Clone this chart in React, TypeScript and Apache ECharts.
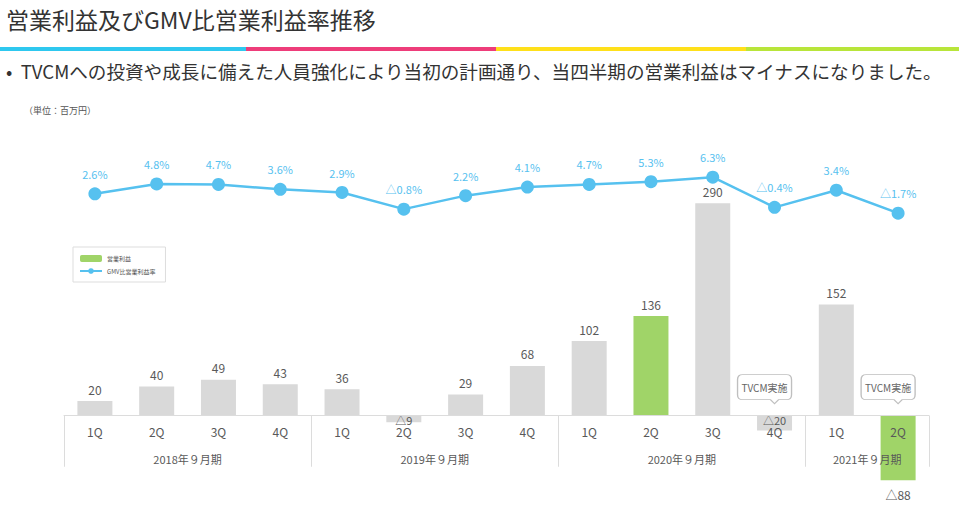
import React, { useEffect, useRef } from "react";
import * as echarts from "echarts";

const quarterLabels = ["1Q", "2Q", "3Q", "4Q", "1Q", "2Q", "3Q", "4Q", "1Q", "2Q", "3Q", "4Q", "1Q", "2Q"];
const operatingProfit = [20, 40, 49, 43, 36, -9, 29, 68, 102, 136, 290, -20, 152, -88];
const gmvMargin = [2.6, 4.8, 4.7, 3.6, 2.9, -0.8, 2.2, 4.1, 4.7, 5.3, 6.3, -0.4, 3.4, -1.7];
const fiscalYears = ["2018年９月期", "2019年９月期", "2020年９月期", "2021年９月期"];
const quartersPerYear = [4, 4, 4, 2];
const highlighted = [9, 13];
const calloutIndex = [11, 13];
const calloutText = "TVCM実施";

const FONT = "'Noto Sans CJK JP', 'Noto Sans', sans-serif";
const GRAY = "#d9d9d9";
const GREEN = "#a0d468";
const BLUE = "#56c1ef";
const TEXT = "#595959";

const BAR_MIN = -100;
const BAR_MAX = 360;
const GRID_TOP = 152;
const GRID_BOTTOM = 20;
const CHART_H = 509;

const fmtTri = (v: number, digits: number, suffix: string) =>
  v < 0 ? `△${Math.abs(v).toFixed(digits)}${suffix}` : `${v.toFixed(digits)}${suffix}`;

export default function App() {
  const ref = useRef<HTMLDivElement>(null);
  useEffect(() => {
    if (!ref.current) return;
    const chart = echarts.init(ref.current, undefined, { renderer: "svg" });

    const categories = quarterLabels.map((q, i) => `${i}-${q}`);
    const boundaries: number[] = [0];
    const centers: number[] = [];
    quartersPerYear.forEach((n) => {
      const start = boundaries[boundaries.length - 1];
      centers.push(start + n / 2);
      boundaries.push(start + n);
    });
    const total = boundaries[boundaries.length - 1];

    // place the x axes on the bar axis' zero line
    const gridH = CHART_H - GRID_TOP - GRID_BOTTOM;
    const zeroOffset = -(gridH * (0 - BAR_MIN)) / (BAR_MAX - BAR_MIN);

    const barData = operatingProfit.map((v, i) => {
      const item: any = {
        value: v,
        itemStyle: { color: highlighted.includes(i) ? GREEN : GRAY },
      };
      if (v < 0) {
        item.label = Math.abs(v) > 50
          ? { position: "bottom", distance: 8 }
          : { position: "insideTop", distance: -1, fontSize: 11 };
      }
      return item;
    });

    const bubble =
      "path://M5,0 H49 Q54,0 54,5 V20 Q54,25 49,25 H41 L37,29 L33,25 H5 Q0,25 0,20 V5 Q0,0 5,0 Z";

    chart.setOption({
      animation: false,
      backgroundColor: "#ffffff",
      textStyle: { fontFamily: FONT },
      title: {
        text: "営業利益及びGMV比営業利益率推移",
        left: 6,
        top: 7,
        padding: 0,
        textStyle: { fontSize: 23, fontWeight: "normal", color: "#333", fontFamily: FONT },
      },
      graphic: [
        { type: "rect", left: 0, top: 47, shape: { width: 246, height: 4 }, style: { fill: "#2ec8ef" } },
        { type: "rect", left: 246, top: 47, shape: { width: 250, height: 4 }, style: { fill: "#ee3d7a" } },
        { type: "rect", left: 496, top: 47, shape: { width: 250, height: 4 }, style: { fill: "#ffe01a" } },
        { type: "rect", left: 746, top: 47, shape: { width: 213, height: 4 }, style: { fill: "#b8e53a" } },
        {
          type: "text",
          left: 6,
          top: 61,
          style: {
            text: "•  TVCMへの投資や成長に備えた人員強化により当初の計画通り、当四半期の営業利益はマイナスになりました。",
            fontSize: 18.6,
            fill: "#333",
            fontFamily: FONT,
          },
        },
        {
          type: "text",
          left: 24,
          top: 106,
          style: { text: "（単位：百万円）", fontSize: 9, fill: "#555", fontFamily: FONT },
        },
      ],
      legend: {
        left: 73,
        top: 247,
        orient: "vertical",
        backgroundColor: "#fff",
        borderColor: "#dddddd",
        borderWidth: 1,
        padding: [8, 10, 8, 6],
        itemGap: 6,
        itemWidth: 22,
        itemHeight: 7,
        textStyle: { fontSize: 6, color: "#555", fontFamily: FONT },
        data: ["営業利益", "GMV比営業利益率"],
      },
      grid: {
        left: 64,
        right: 30,
        top: GRID_TOP,
        bottom: GRID_BOTTOM,
        containLabel: false,
        outerBoundsMode: "none",
      },
      xAxis: [
        {
          type: "category",
          data: categories,
          position: "bottom",
          offset: zeroOffset,
          z: 5,
          axisLine: { show: true, onZero: false, lineStyle: { color: "#dcdcdc", width: 1 } },
          axisTick: { show: false },
          axisLabel: {
            color: TEXT,
            fontSize: 12,
            margin: 10,
            fontFamily: FONT,
            formatter: (_v: string, i: number) => quarterLabels[i],
          },
          splitLine: { show: false },
        },
        {
          type: "value",
          min: 0,
          max: total,
          position: "bottom",
          offset: zeroOffset,
          z: 5,
          axisLine: { show: false, onZero: false },
          axisTick: {
            show: true,
            inside: false,
            length: 51,
            customValues: boundaries,
            lineStyle: { color: "#dcdcdc", width: 1 },
          },
          axisLabel: {
            show: true,
            customValues: centers,
            margin: 38,
            color: TEXT,
            fontSize: 11,
            fontFamily: FONT,
            formatter: (v: number) => fiscalYears[centers.indexOf(v)] ?? "",
          },
          splitLine: { show: false },
        },
      ],
      yAxis: [
        { type: "value", min: BAR_MIN, max: BAR_MAX, show: false, splitLine: { show: false } },
        { type: "value", min: -63, max: 11.9, show: false, splitLine: { show: false } },
      ],
      series: [
        {
          name: "営業利益",
          type: "bar",
          xAxisIndex: 0,
          yAxisIndex: 0,
          barWidth: 35,
          z: 2,
          itemStyle: { color: GREEN },
          label: {
            show: true,
            position: "top",
            distance: 6,
            color: TEXT,
            fontSize: 12,
            fontFamily: FONT,
            formatter: (p: any) => fmtTri(p.value, 0, ""),
          },
          data: barData,
          markPoint: {
            symbol: bubble,
            symbolSize: [54, 29],
            symbolOffset: [-10, -26.5],
            symbolKeepAspect: false,
            itemStyle: { color: "#ffffff", borderColor: "#bfbfbf", borderWidth: 1 },
            label: {
              show: true,
              position: "inside",
              offset: [0, -2],
              formatter: calloutText,
              color: "#666",
              fontSize: 10,
              fontFamily: FONT,
            },
            emphasis: { disabled: true },
            data: calloutIndex.map((i) => ({ coord: [i, 0] })),
          },
        },
        {
          name: "GMV比営業利益率",
          type: "line",
          xAxisIndex: 0,
          yAxisIndex: 1,
          z: 10,
          data: gmvMargin,
          symbol: "circle",
          symbolSize: 13,
          lineStyle: { color: BLUE, width: 2.5 },
          itemStyle: { color: BLUE },
          label: {
            show: true,
            position: "top",
            distance: 8,
            color: BLUE,
            fontSize: 11,
            fontFamily: FONT,
            formatter: (p: any) => fmtTri(p.value, 1, "%"),
          },
        },
      ],
    });
    return () => chart.dispose();
  }, []);
  return (
    <div
      ref={ref}
      style={{ position: "fixed", left: 0, top: 0, width: 959, height: 509, background: "#fff" }}
    />
  );
}
